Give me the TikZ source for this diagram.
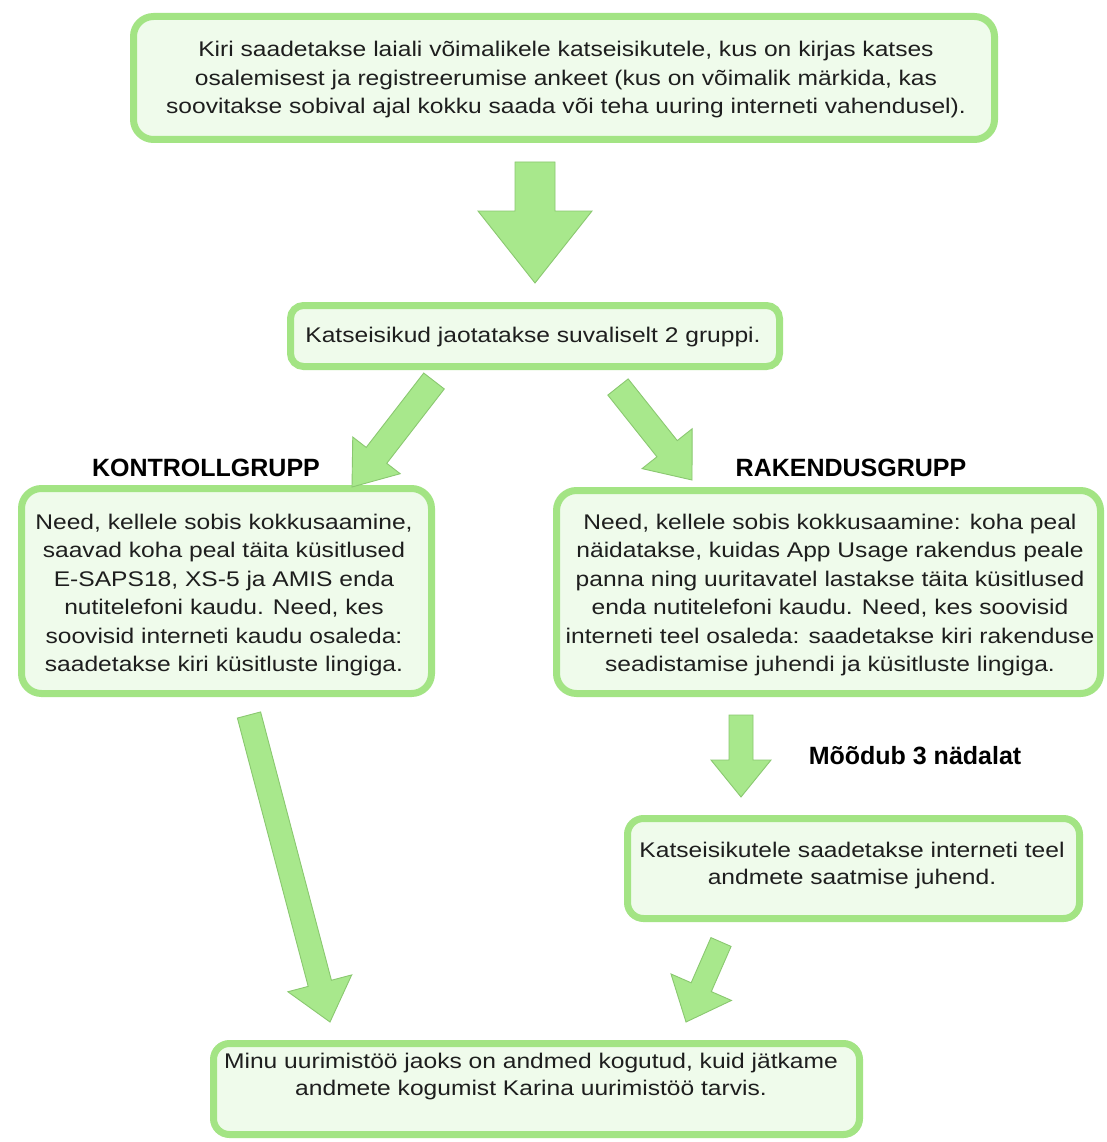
\documentclass[tikz,border=0pt]{standalone}
\usepackage{fontspec}
\setmainfont{Liberation Sans}
\newfontfamily\bodyfont[FakeStretch=1.16]{Liberation Sans}
\usetikzlibrary{calc}
\definecolor{boxc}{RGB}{163,228,132}
\definecolor{boxf}{RGB}{239,251,235}
\definecolor{arrf}{RGB}{168,232,140}
\definecolor{arrd}{RGB}{138,200,112}
\definecolor{txt}{RGB}{30,30,30}
\tikzset{
  box/.style={draw=boxc, fill=boxf, line width=7pt, rounded corners=20pt, inner sep=0pt, outer sep=0pt},
  txtst/.style={align=center, inner sep=0pt, text=txt, font=\bodyfont\fontsize{21.2}{28.5}\selectfont},
  txtsm/.style={align=center, inner sep=0pt, text=txt, font=\bodyfont\fontsize{21.2}{27}\selectfont},
  lbl/.style={inner sep=0pt, anchor=base, text=black, font=\fontsize{25}{28}\selectfont\bfseries},
  arrowst/.style={fill=arrf, draw=arrd, line width=0.9pt, line join=miter}
}
% tail, tip, half shaft, half head, head length
\newcommand{\blkarrow}[5]{%
  \coordinate (#1hb) at ($(#2)!#5!(#1)$);
  \filldraw[arrowst] ($(#1)!#3!90:(#2)$) -- ($(#1hb)!#3!-90:(#1)$) -- ($(#1hb)!#4!-90:(#1)$) -- (#2)
    -- ($(#1hb)!#4!90:(#1)$) -- ($(#1hb)!#3!90:(#1)$) -- ($(#1)!#3!-90:(#2)$) -- cycle;}
\begin{document}
\begin{tikzpicture}[x=1pt,y=-1pt]
\useasboundingbox[fill=white] (0,0) rectangle (1106,1142);

% boxes
\node[box, minimum width=861pt, minimum height=123pt] (top) at (564,78) {};
\node[box, rounded corners=13pt, minimum width=489pt, minimum height=61pt] (split) at (535,336) {};
\node[box, minimum width=410pt, minimum height=205pt] (ctrl) at (226.5,591) {};
\node[box, minimum width=544pt, minimum height=203pt] (app) at (828.5,592) {};
\node[box, rounded corners=16pt, minimum width=452pt, minimum height=100pt] (guide) at (853.5,868.5) {};
\node[box, rounded corners=16pt, minimum width=646pt, minimum height=91pt] (final) at (536.5,1089) {};

% texts
\node[txtst] (topT) at (566,80) {Kiri saadetakse laiali võimalikele katseisikutele, kus on kirjas katses\\osalemisest ja registreerumise ankeet (kus on võimalik märkida, kas\\soovitakse sobival ajal kokku saada või teha uuring interneti vahendusel).};
\node[txtst] (splitT) at (533,337) {Katseisikud jaotatakse suvaliselt 2 gruppi.};
\node[txtst] (ctrlT) at (224,595) {Need, kellele sobis kokkusaamine,\\saavad koha peal täita küsitlused\\E-SAPS18, XS-5 ja AMIS enda\\nutitelefoni kaudu. Need, kes\\soovisid interneti kaudu osaleda:\\saadetakse kiri küsitluste lingiga.};
\node[txtst] (appT) at (830,595) {Need, kellele sobis kokkusaamine: koha peal\\näidatakse, kuidas App Usage rakendus peale\\panna ning uuritavatel lastakse täita küsitlused\\enda nutitelefoni kaudu. Need, kes soovisid\\interneti teel osaleda: saadetakse kiri rakenduse\\seadistamise juhendi ja küsitluste lingiga.};
\node[txtsm] (guideT) at (852,866) {Katseisikutele saadetakse interneti teel\\andmete saatmise juhend.};
\node[txtsm] (finalT) at (531,1077) {Minu uurimistöö jaoks on andmed kogutud, kuid jätkame\\andmete kogumist Karina uurimistöö tarvis.};

% labels
\node[lbl] (kg) at (206,476) {KONTROLLGRUPP};
\node[lbl] (rg) at (851,476) {RAKENDUSGRUPP};
\node[lbl] (md) at (915,764) {Mõõdub 3 nädalat};

% arrow end points
\coordinate (a1t) at (535,162);  \coordinate (a1p) at (535,283);
\coordinate (a2t) at (434,381);  \coordinate (a2p) at (352,487);
\coordinate (a3t) at (618,387);  \coordinate (a3p) at (692,480);
\coordinate (a4t) at (249,715);  \coordinate (a4p) at (330,1022);
\coordinate (a5t) at (741,715);  \coordinate (a5p) at (741,797);
\coordinate (a6t) at (721,942);  \coordinate (a6p) at (686,1022);

\blkarrow{a1t}{a1p}{20pt}{57pt}{72pt}
\blkarrow{a2t}{a2p}{13pt}{30pt}{40pt}
\blkarrow{a3t}{a3p}{13pt}{32pt}{40pt}
\blkarrow{a4t}{a4p}{12pt}{33pt}{40pt}
\blkarrow{a5t}{a5p}{12pt}{30pt}{37pt}
\blkarrow{a6t}{a6p}{11pt}{33pt}{38pt}
\end{tikzpicture}
\end{document}
